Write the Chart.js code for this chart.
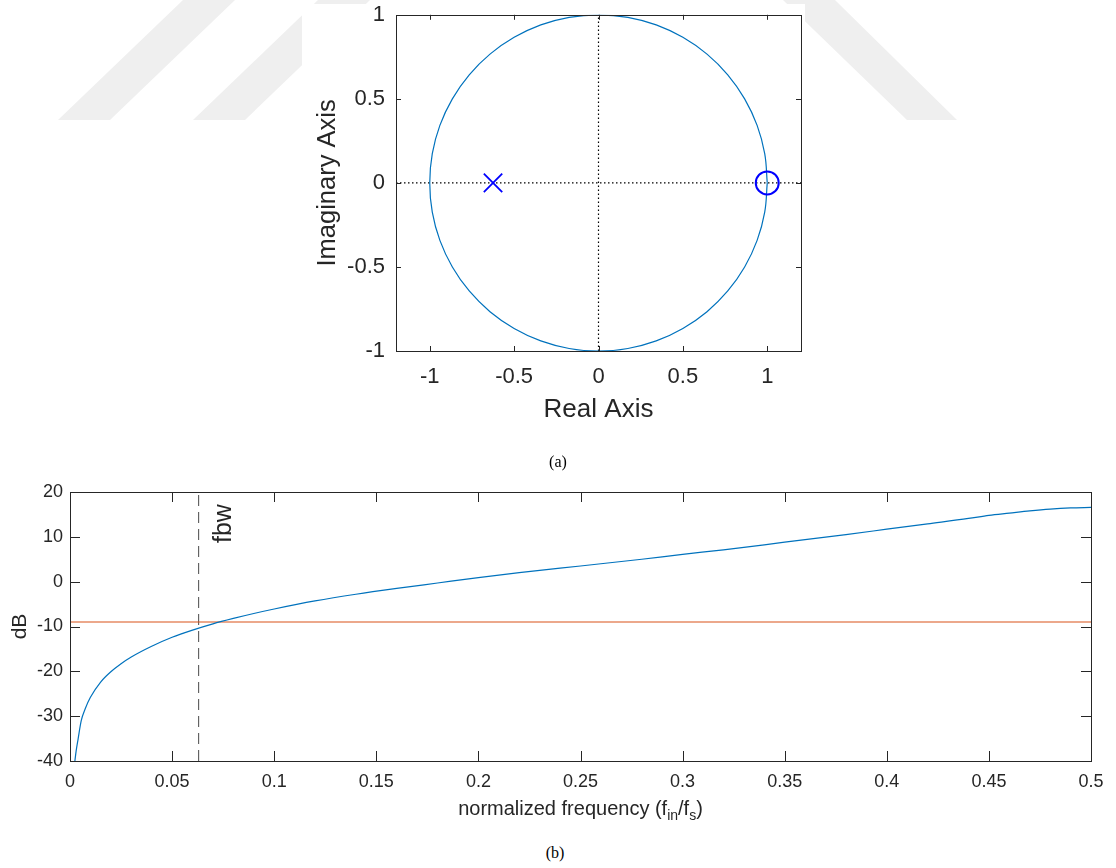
<!DOCTYPE html>
<html>
<head>
<meta charset="utf-8">
<script src="https://cdn.jsdelivr.net/npm/chart.js@4.4.1/dist/chart.umd.min.js"></script>
<style>
  body { margin: 0; width: 1116px; height: 868px; position: relative; overflow: hidden; background: #fff; }
  .wm { position: absolute; left: 0; top: 0; width: 1116px; height: 130px; background: #efefef; }
  #wmA { clip-path: polygon(58px 120px, 110px 120px, 235px 0px, 183px 0px); }
  #wmB { clip-path: polygon(193px 120px, 245px 120px, 370px 0px, 318px 0px); }
  #wmC { clip-path: polygon(783px 0px, 835px 0px, 957px 120px, 907px 120px); }
  #paper { position: absolute; left: 302px; top: 4px; width: 503px; height: 436px; background: #fff; }
  #wrapTop { position: absolute; left: 300px; top: 0px; width: 520px; height: 430px; }
  #wrapBottom { position: absolute; left: 0px; top: 470px; width: 1116px; height: 360px; }
  .caption { position: absolute; width: 100px; text-align: center; font-family: "Liberation Serif", "Times New Roman", serif; font-size: 16px; line-height: 16px; color: #000; }
</style>
</head>
<body>
<div class="wm" id="wmA"></div>
<div class="wm" id="wmB"></div>
<div class="wm" id="wmC"></div>
<div id="paper"></div>
<div id="wrapTop"><canvas id="pzChart" width="520" height="430"></canvas></div>
<div id="wrapBottom"><canvas id="magChart" width="1116" height="360"></canvas></div>
<div class="caption" style="left:508px; top:454px;">(a)</div>
<div class="caption" style="left:505px; top:845px;">(b)</div>

<script>
// (a) pole-zero plot
const circleX = [1, 0.985, 0.940, 0.866, 0.766, 0.643, 0.5, 0.342, 0.174, 0, -0.174, -0.342, -0.5, -0.643, -0.766, -0.866, -0.940, -0.985, -1, -0.985, -0.940, -0.866, -0.766, -0.643, -0.5, -0.342, -0.174, 0, 0.174, 0.342, 0.5, 0.643, 0.766, 0.866, 0.940, 0.985, 1];
const circleY = [0, 0.174, 0.342, 0.5, 0.643, 0.766, 0.866, 0.940, 0.985, 1, 0.985, 0.940, 0.866, 0.766, 0.643, 0.5, 0.342, 0.174, 0, -0.174, -0.342, -0.5, -0.643, -0.766, -0.866, -0.940, -0.985, -1, -0.985, -0.940, -0.866, -0.766, -0.643, -0.5, -0.342, -0.174, 0];
const poles = [{ x: -0.625, y: 0 }];
const zeros = [{ x: 1, y: 0 }];
const realRange = [-1.2, 1.2];
const imagRange = [-1, 1];

// (b) magnitude response
const freq = [0.002, 0.003, 0.004, 0.0055, 0.0075, 0.01, 0.015, 0.02, 0.025, 0.03, 0.04, 0.05, 0.06, 0.07, 0.08, 0.09, 0.1, 0.12, 0.14, 0.16, 0.18, 0.2, 0.22, 0.25, 0.28, 0.3, 0.32, 0.35, 0.38, 0.4, 0.42, 0.44, 0.45, 0.46, 0.47, 0.48, 0.49, 0.5];
const magDb = [-41.5, -37.8, -35.0, -31.0, -28.3, -25.8, -22.4, -20.1, -18.3, -16.8, -14.4, -12.4, -10.8, -9.4, -8.2, -7.1, -6.1, -4.3, -2.8, -1.5, -0.3, 0.9, 2.0, 3.5, 5.0, 6.1, 7.1, 8.8, 10.5, 11.7, 12.9, 14.1, 14.8, 15.3, 15.8, 16.2, 16.45, 16.55];
const threshold = -9;
const fbw = 0.063;
const freqRange = [0, 0.5];
const dbRange = [-40, 20];

const axisColor = '#262626';
const sansFont = '"Liberation Sans", Arial, Helvetica, sans-serif';

// tick labels without trailing zeros, like "0.1" or "-1"
const plainTick = v => String(+Number(v).toFixed(4));

// MATLAB style box with inward ticks on all four sides
const boxTicks = {
  id: 'boxTicks',
  afterDatasetsDraw(chart, args, opts) {
    const { ctx, chartArea: a, scales: { x, y } } = chart;
    const len = opts.len || 5;
    ctx.save();
    ctx.strokeStyle = axisColor;
    ctx.lineWidth = 1;
    ctx.beginPath();
    x.ticks.forEach(t => {
      const px = Math.round(x.getPixelForValue(t.value)) + 0.5;
      ctx.moveTo(px, a.bottom); ctx.lineTo(px, a.bottom - len);
      ctx.moveTo(px, a.top); ctx.lineTo(px, a.top + len);
    });
    y.ticks.forEach(t => {
      const py = Math.round(y.getPixelForValue(t.value)) + 0.5;
      ctx.moveTo(a.left, py); ctx.lineTo(a.left + len, py);
      ctx.moveTo(a.right, py); ctx.lineTo(a.right - len, py);
    });
    ctx.stroke();
    ctx.strokeRect(Math.round(a.left) + 0.5, Math.round(a.top) + 0.5,
      Math.round(a.right - a.left), Math.round(a.bottom - a.top));
    ctx.restore();
  }
};

// text annotations of the lower plot: fbw marker and x label with subscripts
const magText = {
  id: 'magText',
  afterDraw(chart) {
    const { ctx, chartArea: a, scales: { x } } = chart;
    ctx.save();
    ctx.fillStyle = axisColor;
    ctx.translate(x.getPixelForValue(fbw) + 32, a.top + 51);
    ctx.rotate(-Math.PI / 2);
    ctx.font = '25px ' + sansFont;
    ctx.textBaseline = 'alphabetic';
    ctx.textAlign = 'left';
    ctx.fillText('fbw', 0, 0);
    ctx.restore();

    const parts = [
      ['normalized frequency (f', false], ['in', true], ['/f', false], ['s', true], [')', false]
    ];
    const big = '20px ' + sansFont, small = '14px ' + sansFont;
    ctx.save();
    ctx.fillStyle = axisColor;
    ctx.textBaseline = 'alphabetic';
    ctx.textAlign = 'left';
    let total = 0;
    parts.forEach(p => { ctx.font = p[1] ? small : big; total += ctx.measureText(p[0]).width; });
    let cx = (a.left + a.right) / 2 - total / 2;
    const base = a.bottom + 54;
    parts.forEach(p => {
      ctx.font = p[1] ? small : big;
      ctx.fillText(p[0], cx, p[1] ? base + 5 : base);
      cx += ctx.measureText(p[0]).width;
    });
    ctx.restore();
  }
};

function fixSize(prop, size) {
  return function (s) {
    s[prop] = size;
    s.paddingTop = 0; s.paddingBottom = 0; s.paddingLeft = 0; s.paddingRight = 0;
  };
}

new Chart(document.getElementById('pzChart'), {
  type: 'scatter',
  data: {
    datasets: [
      {
        label: 'zeros',
        data: zeros,
        pointStyle: 'circle',
        pointRadius: 11.5,
        pointBorderWidth: 2,
        pointBorderColor: '#0000ff',
        pointBackgroundColor: 'rgba(0,0,0,0)'
      },
      {
        label: 'poles',
        data: poles,
        pointStyle: 'crossRot',
        pointRadius: 13,
        pointBorderWidth: 1.8,
        pointBorderColor: '#0000ff'
      },
      {
        label: 'unit circle',
        data: circleX.map((v, i) => ({ x: v, y: circleY[i] })),
        showLine: true,
        borderColor: '#0072bd',
        borderWidth: 1.2,
        tension: 0.4,
        pointRadius: 0
      },
      {
        label: 'real axis',
        data: [{ x: realRange[0], y: 0 }, { x: realRange[1], y: 0 }],
        showLine: true,
        borderColor: '#000',
        borderWidth: 1.2,
        borderDash: [1.5, 2.5],
        pointRadius: 0
      },
      {
        label: 'imag axis',
        data: [{ x: 0, y: imagRange[0] }, { x: 0, y: imagRange[1] }],
        showLine: true,
        borderColor: '#000',
        borderWidth: 1.2,
        borderDash: [1.5, 2.5],
        pointRadius: 0
      }
    ]
  },
  options: {
    responsive: false,
    animation: false,
    events: [],
    layout: { padding: { left: 0, right: 19, top: 14, bottom: 0 } },
    plugins: { legend: { display: false }, tooltip: { enabled: false }, boxTicks: { len: 5 } },
    scales: {
      x: {
        type: 'linear',
        min: realRange[0], max: realRange[1],
        grid: { display: false, drawTicks: false },
        border: { display: false },
        ticks: { stepSize: 0.5, includeBounds: false, padding: 13, color: axisColor, font: { family: sansFont, size: 22 }, callback: plainTick },
        title: { display: true, text: 'Real Axis', color: axisColor, font: { family: sansFont, size: 26 }, padding: { top: 0, bottom: 5 } },
        afterFit: fixSize('height', 79)
      },
      y: {
        type: 'linear',
        min: imagRange[0], max: imagRange[1],
        grid: { display: false, drawTicks: false },
        border: { display: false },
        ticks: { stepSize: 0.5, padding: 11, color: axisColor, font: { family: sansFont, size: 22 }, callback: plainTick },
        title: { display: true, text: 'Imaginary Axis', color: axisColor, font: { family: sansFont, size: 25.5 }, padding: { top: 13, bottom: 0 } },
        afterFit: fixSize('width', 96)
      }
    }
  },
  plugins: [boxTicks]
});

new Chart(document.getElementById('magChart'), {
  type: 'scatter',
  data: {
    datasets: [
      {
        label: 'response',
        data: freq.map((f, i) => ({ x: f, y: magDb[i] })),
        showLine: true,
        borderColor: '#0072bd',
        borderWidth: 1.2,
        cubicInterpolationMode: 'monotone',
        pointRadius: 0
      },
      {
        label: 'threshold',
        data: [{ x: freqRange[0], y: threshold }, { x: freqRange[1], y: threshold }],
        showLine: true,
        borderColor: '#d95319',
        borderWidth: 1.2,
        pointRadius: 0
      },
      {
        label: 'fbw',
        data: [{ x: fbw, y: dbRange[0] }, { x: fbw, y: dbRange[1] }],
        showLine: true,
        borderColor: '#4a4a4a',
        borderWidth: 1,
        borderDash: [11, 6],
        pointRadius: 0
      }
    ]
  },
  options: {
    responsive: false,
    animation: false,
    events: [],
    layout: { padding: { left: 0, right: 25, top: 22, bottom: 0 } },
    plugins: { legend: { display: false }, tooltip: { enabled: false }, boxTicks: { len: 10 } },
    scales: {
      x: {
        type: 'linear',
        min: freqRange[0], max: freqRange[1],
        grid: { display: false, drawTicks: false },
        border: { display: false },
        ticks: { stepSize: 0.05, padding: 10, color: axisColor, font: { family: sansFont, size: 18 }, callback: plainTick },
        afterFit: fixSize('height', 69)
      },
      y: {
        type: 'linear',
        min: dbRange[0], max: dbRange[1],
        grid: { display: false, drawTicks: false },
        border: { display: false },
        ticks: { stepSize: 10, padding: 7, color: axisColor, font: { family: sansFont, size: 18 }, callback: plainTick },
        title: { display: true, text: 'dB', color: axisColor, font: { family: sansFont, size: 21 }, padding: { top: 8, bottom: 0 } },
        afterFit: fixSize('width', 70)
      }
    }
  },
  plugins: [boxTicks, magText]
});
</script>
</body>
</html>
